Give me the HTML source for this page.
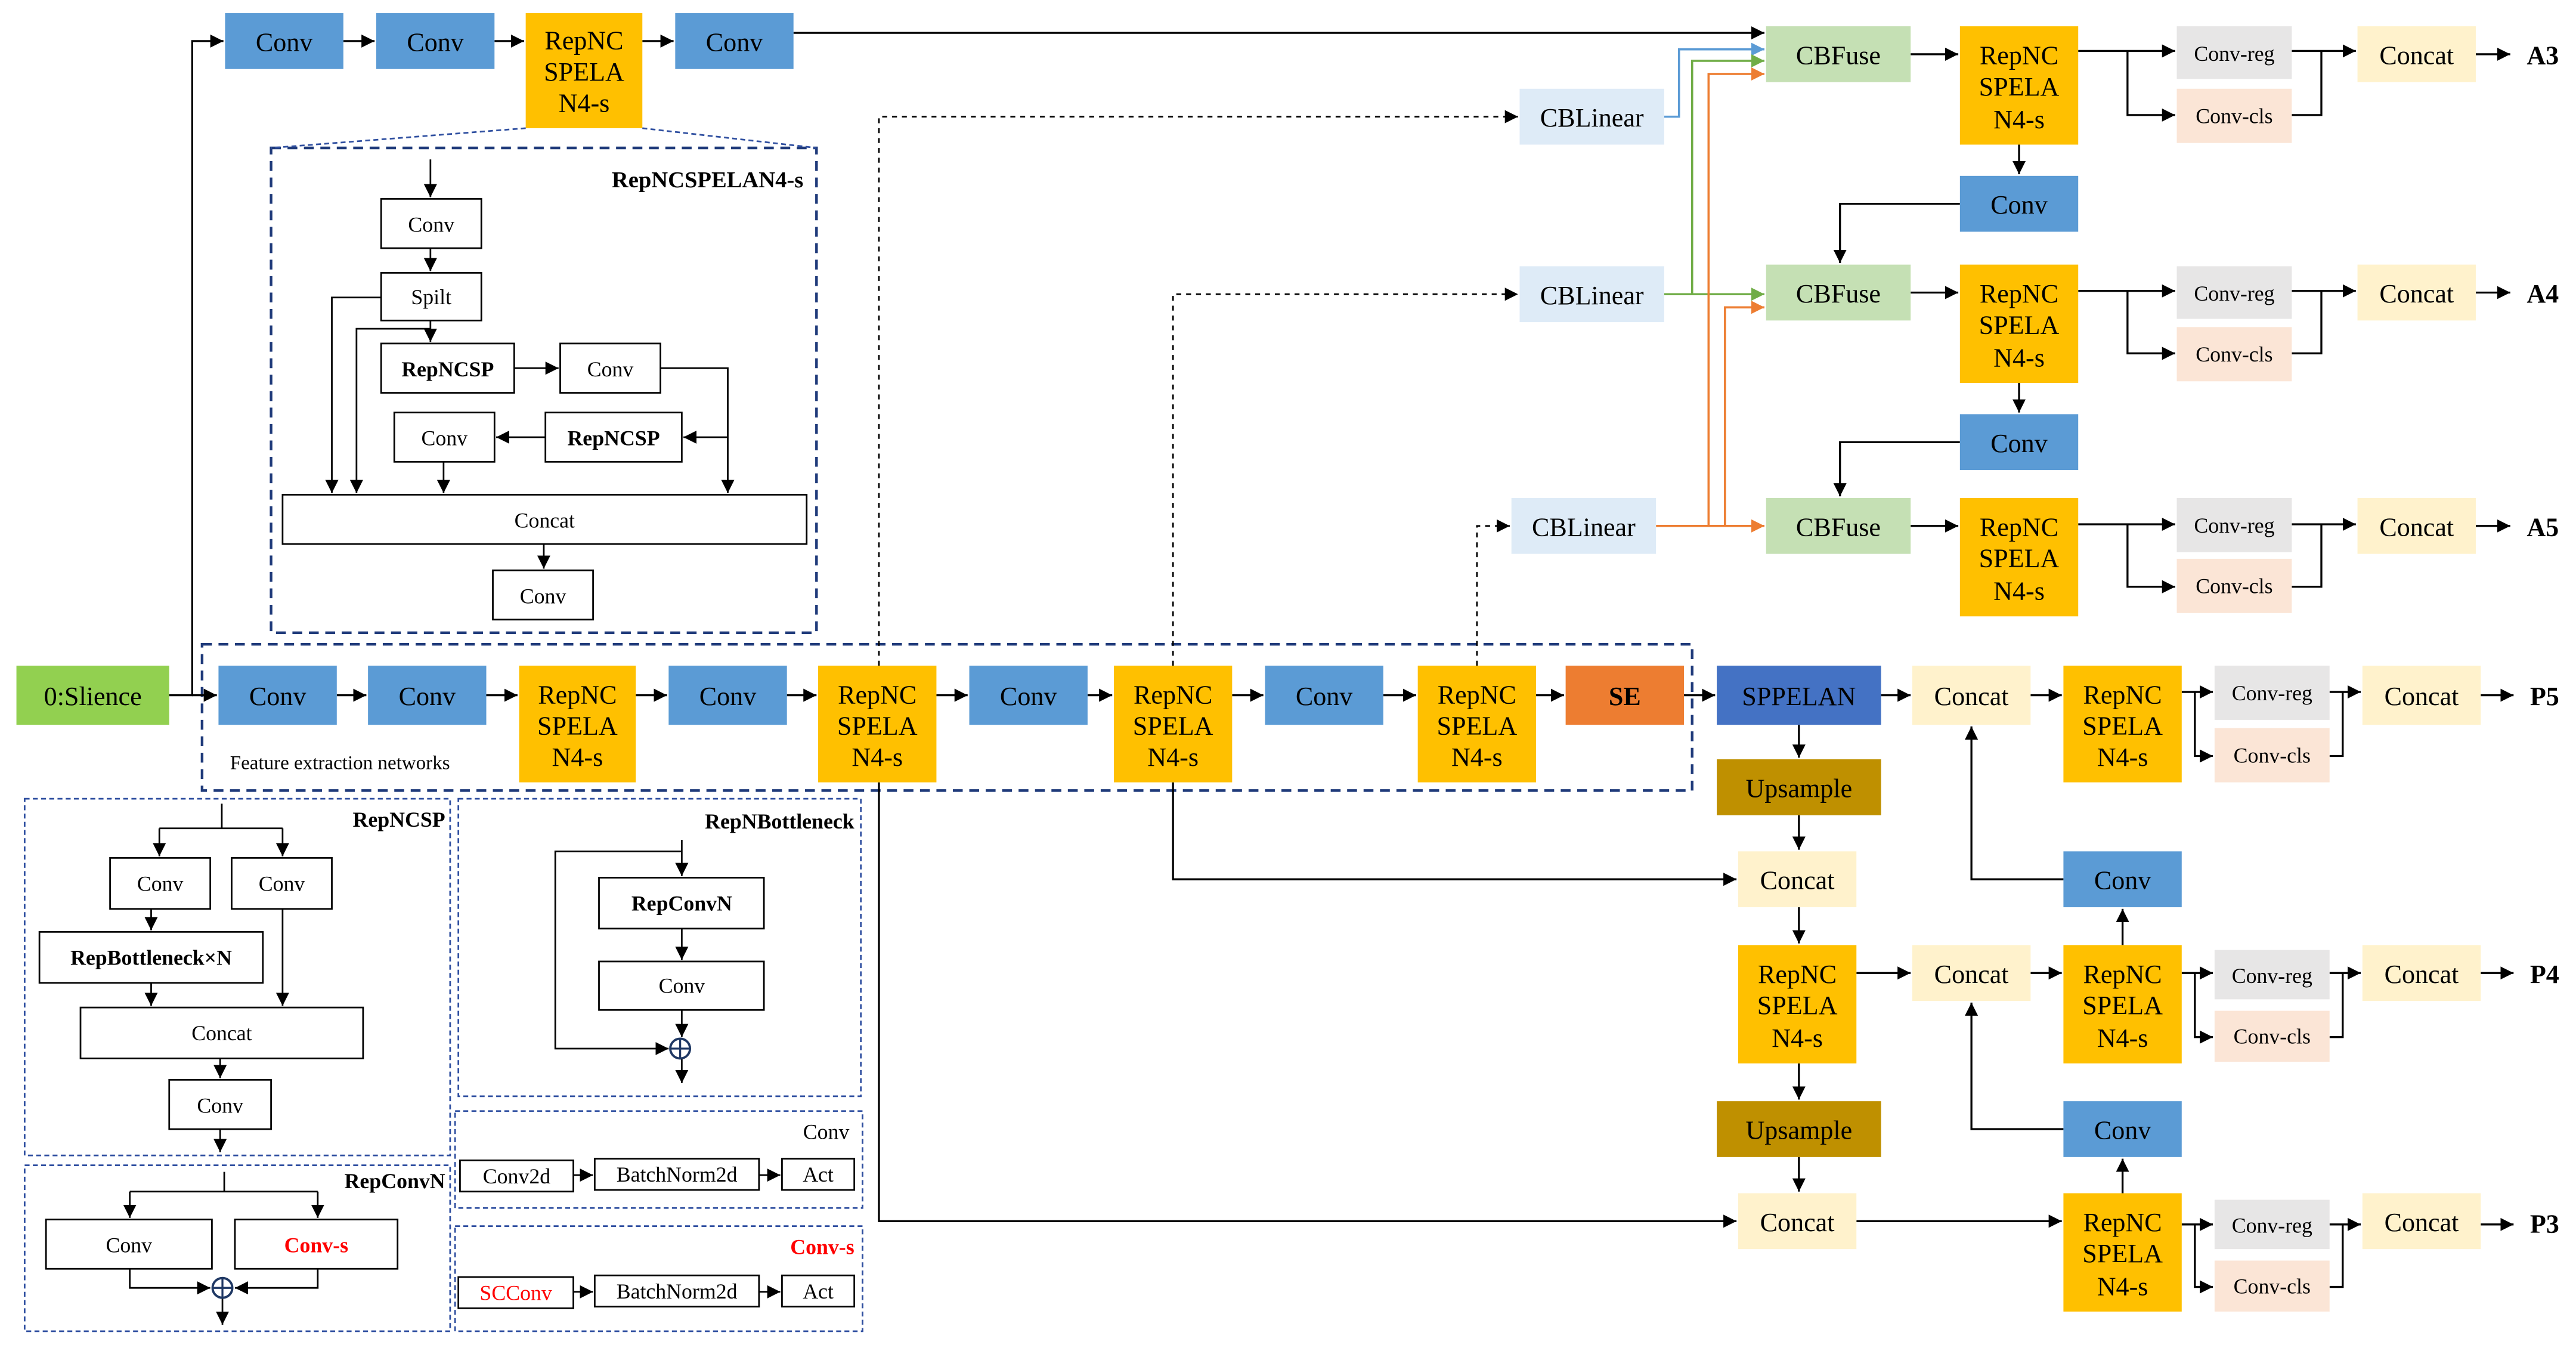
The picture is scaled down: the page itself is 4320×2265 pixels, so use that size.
<!DOCTYPE html>
<html><head><meta charset="utf-8"><style>
html,body{margin:0;padding:0;background:#fff;}
svg{display:block;}
text{font-family:"Liberation Serif",serif;fill:#000;}
</style></head><body>
<svg width="4320" height="2265" viewBox="0 0 1568 822" preserveAspectRatio="none" xmlns="http://www.w3.org/2000/svg">
<defs>
<marker id="a" markerUnits="userSpaceOnUse" markerWidth="9" markerHeight="9" refX="8" refY="4" orient="auto"><path d="M0,0 L8,4 L0,8 z" fill="#000"/></marker>
<marker id="b" markerUnits="userSpaceOnUse" markerWidth="9" markerHeight="9" refX="8" refY="4" orient="auto"><path d="M0,0 L8,4 L0,8 z" fill="#5b9bd5"/></marker>
<marker id="g" markerUnits="userSpaceOnUse" markerWidth="9" markerHeight="9" refX="8" refY="4" orient="auto"><path d="M0,0 L8,4 L0,8 z" fill="#70ad47"/></marker>
<marker id="o" markerUnits="userSpaceOnUse" markerWidth="9" markerHeight="9" refX="8" refY="4" orient="auto"><path d="M0,0 L8,4 L0,8 z" fill="#ed7d31"/></marker>
</defs>
<rect width="1568" height="822" fill="#fff"/>

<!-- dashed group boxes -->
<g fill="none" stroke="#1f3a7a" stroke-width="1.6" stroke-dasharray="6,4">
<rect x="165" y="90" width="332" height="295"/>
<rect x="123" y="392" width="907" height="89"/>
</g>
<g fill="none" stroke="#2f4fa0" stroke-width="1" stroke-dasharray="3,2">
<line x1="320" y1="78" x2="165" y2="90"/><line x1="391" y1="78" x2="497" y2="90"/>
<rect x="15" y="486" width="259" height="217"/>
<rect x="279" y="486" width="245" height="181"/>
<rect x="277" y="676" width="248" height="59"/>
<rect x="277" y="746" width="248" height="64"/>
<rect x="15" y="709" width="259" height="101"/>
</g>

<!-- connectors black -->
<g stroke="#000" stroke-width="1.2" fill="none">
<polyline points="103,423 117,423 117,25 136,25" marker-end="url(#a)"/>
<line x1="117" y1="423" x2="132" y2="423" marker-end="url(#a)"/>
<line x1="209" y1="25" x2="228" y2="25" marker-end="url(#a)"/>
<line x1="301" y1="25" x2="319" y2="25" marker-end="url(#a)"/>
<line x1="391" y1="25" x2="410" y2="25" marker-end="url(#a)"/>
<line x1="483" y1="20" x2="1074" y2="20" marker-end="url(#a)"/>
<!-- main row -->
<line x1="205" y1="423" x2="223" y2="423" marker-end="url(#a)"/>
<line x1="296" y1="423" x2="315" y2="423" marker-end="url(#a)"/>
<line x1="387" y1="423" x2="406" y2="423" marker-end="url(#a)"/>
<line x1="479" y1="423" x2="497" y2="423" marker-end="url(#a)"/>
<line x1="570" y1="423" x2="589" y2="423" marker-end="url(#a)"/>
<line x1="662" y1="423" x2="677" y2="423" marker-end="url(#a)"/>
<line x1="750" y1="423" x2="769" y2="423" marker-end="url(#a)"/>
<line x1="842" y1="423" x2="862" y2="423" marker-end="url(#a)"/>
<line x1="935" y1="423" x2="952" y2="423" marker-end="url(#a)"/>
<line x1="1025" y1="423" x2="1044" y2="423" marker-end="url(#a)"/>
<line x1="1145" y1="423" x2="1163" y2="423" marker-end="url(#a)"/>
<line x1="1236" y1="423" x2="1255" y2="423" marker-end="url(#a)"/>
<!-- P5 head -->
<line x1="1328" y1="421" x2="1347" y2="421" marker-end="url(#a)"/>
<polyline points="1336,421 1336,460 1347,460" marker-end="url(#a)"/>
<polyline points="1418,460 1426,460 1426,421"/>
<line x1="1418" y1="421" x2="1437" y2="421" marker-end="url(#a)"/>
<line x1="1510" y1="423" x2="1530" y2="423" marker-end="url(#a)"/>
<!-- P4 head -->
<line x1="1328" y1="592" x2="1347" y2="592" marker-end="url(#a)"/>
<polyline points="1336,592 1336,631 1347,631" marker-end="url(#a)"/>
<polyline points="1418,631 1426,631 1426,592"/>
<line x1="1418" y1="592" x2="1437" y2="592" marker-end="url(#a)"/>
<line x1="1510" y1="592" x2="1530" y2="592" marker-end="url(#a)"/>
<!-- P3 head -->
<line x1="1328" y1="745" x2="1347" y2="745" marker-end="url(#a)"/>
<polyline points="1336,745 1336,783 1347,783" marker-end="url(#a)"/>
<polyline points="1418,783 1426,783 1426,745"/>
<line x1="1418" y1="745" x2="1437" y2="745" marker-end="url(#a)"/>
<line x1="1510" y1="745" x2="1530" y2="745" marker-end="url(#a)"/>
<!-- neck -->
<line x1="1095" y1="441" x2="1095" y2="461" marker-end="url(#a)"/>
<line x1="1095" y1="496" x2="1095" y2="517" marker-end="url(#a)"/>
<line x1="1095" y1="552" x2="1095" y2="574" marker-end="url(#a)"/>
<line x1="1095" y1="647" x2="1095" y2="669" marker-end="url(#a)"/>
<line x1="1095" y1="704" x2="1095" y2="725" marker-end="url(#a)"/>
<polyline points="714,476 714,535 1057,535" marker-end="url(#a)"/>
<polyline points="535,476 535,743 1057,743" marker-end="url(#a)"/>
<line x1="1130" y1="592" x2="1163" y2="592" marker-end="url(#a)"/>
<line x1="1236" y1="592" x2="1255" y2="592" marker-end="url(#a)"/>
<line x1="1130" y1="743" x2="1255" y2="743" marker-end="url(#a)"/>
<line x1="1292" y1="726" x2="1292" y2="705" marker-end="url(#a)"/>
<polyline points="1256,687 1200,687 1200,610" marker-end="url(#a)"/>
<line x1="1292" y1="575" x2="1292" y2="553" marker-end="url(#a)"/>
<polyline points="1256,535 1200,535 1200,442" marker-end="url(#a)"/>
<!-- top right heads -->
<line x1="1163" y1="33" x2="1192" y2="33" marker-end="url(#a)"/>
<line x1="1265" y1="31" x2="1324" y2="31" marker-end="url(#a)"/>
<polyline points="1295,31 1295,70 1324,70" marker-end="url(#a)"/>
<polyline points="1395,70 1413,70 1413,31"/>
<line x1="1395" y1="31" x2="1434" y2="31" marker-end="url(#a)"/>
<line x1="1507" y1="33" x2="1528" y2="33" marker-end="url(#a)"/>
<line x1="1229" y1="88" x2="1229" y2="106" marker-end="url(#a)"/>
<polyline points="1193,124 1120,124 1120,160" marker-end="url(#a)"/>
<line x1="1163" y1="178" x2="1192" y2="178" marker-end="url(#a)"/>
<line x1="1265" y1="177" x2="1324" y2="177" marker-end="url(#a)"/>
<polyline points="1295,177 1295,215 1324,215" marker-end="url(#a)"/>
<polyline points="1395,215 1413,215 1413,177"/>
<line x1="1395" y1="177" x2="1434" y2="177" marker-end="url(#a)"/>
<line x1="1507" y1="178" x2="1528" y2="178" marker-end="url(#a)"/>
<line x1="1229" y1="233" x2="1229" y2="251" marker-end="url(#a)"/>
<polyline points="1193,269 1120,269 1120,302" marker-end="url(#a)"/>
<line x1="1163" y1="320" x2="1192" y2="320" marker-end="url(#a)"/>
<line x1="1265" y1="319" x2="1324" y2="319" marker-end="url(#a)"/>
<polyline points="1295,319 1295,357 1324,357" marker-end="url(#a)"/>
<polyline points="1395,357 1413,357 1413,319"/>
<line x1="1395" y1="319" x2="1434" y2="319" marker-end="url(#a)"/>
<line x1="1507" y1="320" x2="1528" y2="320" marker-end="url(#a)"/>
</g>
<!-- dashed black -->
<g stroke="#000" stroke-width="1" fill="none" stroke-dasharray="3,3">
<polyline points="535,405 535,71 924,71" marker-end="url(#a)"/>
<polyline points="714,405 714,179 924,179" marker-end="url(#a)"/>
<polyline points="899,405 899,320 919,320" marker-end="url(#a)"/>
</g>
<!-- colored -->
<g fill="none" stroke-width="1.3">
<polyline stroke="#5b9bd5" points="1013,71 1022,71 1022,30 1074,30" marker-end="url(#b)"/>
<polyline stroke="#70ad47" points="1013,179 1074,179" marker-end="url(#g)"/>
<polyline stroke="#70ad47" points="1030,179 1030,37 1074,37" marker-end="url(#g)"/>
<polyline stroke="#ed7d31" points="1008,320 1074,320" marker-end="url(#o)"/>
<polyline stroke="#ed7d31" points="1040,320 1040,45 1074,45" marker-end="url(#o)"/>
<polyline stroke="#ed7d31" points="1050,320 1050,187 1074,187" marker-end="url(#o)"/>
</g>

<!-- colored blocks -->
<g font-size="16" text-anchor="middle">
<rect x="137" y="8" width="72" height="34" fill="#5b9bd5"/><text x="173" y="31">Conv</text>
<rect x="229" y="8" width="72" height="34" fill="#5b9bd5"/><text x="265" y="31">Conv</text>
<rect x="320" y="8" width="71" height="70" fill="#ffc000"/><text x="355.5" y="30">RepNC</text><text x="355.5" y="49">SPELA</text><text x="355.5" y="68">N4-s</text>
<rect x="411" y="8" width="72" height="34" fill="#5b9bd5"/><text x="447" y="31">Conv</text>

<rect x="10" y="405" width="93" height="36" fill="#92d050"/><text x="56.5" y="429">0:Slience</text>
<rect x="133" y="405" width="72" height="36" fill="#5b9bd5"/><text x="169" y="429">Conv</text>
<rect x="224" y="405" width="72" height="36" fill="#5b9bd5"/><text x="260" y="429">Conv</text>
<rect x="316" y="405" width="71" height="71" fill="#ffc000"/><text x="351.5" y="428">RepNC</text><text x="351.5" y="447">SPELA</text><text x="351.5" y="466">N4-s</text>
<rect x="407" y="405" width="72" height="36" fill="#5b9bd5"/><text x="443" y="429">Conv</text>
<rect x="498" y="405" width="72" height="71" fill="#ffc000"/><text x="534" y="428">RepNC</text><text x="534" y="447">SPELA</text><text x="534" y="466">N4-s</text>
<rect x="590" y="405" width="72" height="36" fill="#5b9bd5"/><text x="626" y="429">Conv</text>
<rect x="678" y="405" width="72" height="71" fill="#ffc000"/><text x="714" y="428">RepNC</text><text x="714" y="447">SPELA</text><text x="714" y="466">N4-s</text>
<rect x="770" y="405" width="72" height="36" fill="#5b9bd5"/><text x="806" y="429">Conv</text>
<rect x="863" y="405" width="72" height="71" fill="#ffc000"/><text x="899" y="428">RepNC</text><text x="899" y="447">SPELA</text><text x="899" y="466">N4-s</text>
<rect x="953" y="405" width="72" height="36" fill="#ed7d31"/><text x="989" y="429" font-weight="bold">SE</text>
<rect x="1045" y="405" width="100" height="36" fill="#4472c4"/><text x="1095" y="429">SPPELAN</text>
<rect x="1164" y="405" width="72" height="36" fill="#fff2cc"/><text x="1200" y="429">Concat</text>
<rect x="1256" y="405" width="72" height="71" fill="#ffc000"/><text x="1292" y="428">RepNC</text><text x="1292" y="447">SPELA</text><text x="1292" y="466">N4-s</text>
<rect x="1438" y="405" width="72" height="36" fill="#fff2cc"/><text x="1474" y="429">Concat</text>

<rect x="1045" y="462" width="100" height="34" fill="#bf9000"/><text x="1095" y="485">Upsample</text>
<rect x="1058" y="518" width="72" height="34" fill="#fff2cc"/><text x="1094" y="541">Concat</text>
<rect x="1058" y="575" width="72" height="72" fill="#ffc000"/><text x="1094" y="598">RepNC</text><text x="1094" y="617">SPELA</text><text x="1094" y="637">N4-s</text>
<rect x="1045" y="670" width="100" height="34" fill="#bf9000"/><text x="1095" y="693">Upsample</text>
<rect x="1058" y="726" width="72" height="34" fill="#fff2cc"/><text x="1094" y="749">Concat</text>
<rect x="1164" y="575" width="72" height="34" fill="#fff2cc"/><text x="1200" y="598">Concat</text>
<rect x="1256" y="518" width="72" height="34" fill="#5b9bd5"/><text x="1292" y="541">Conv</text>
<rect x="1256" y="575" width="72" height="72" fill="#ffc000"/><text x="1292" y="598">RepNC</text><text x="1292" y="617">SPELA</text><text x="1292" y="637">N4-s</text>
<rect x="1438" y="575" width="72" height="34" fill="#fff2cc"/><text x="1474" y="598">Concat</text>
<rect x="1256" y="670" width="72" height="34" fill="#5b9bd5"/><text x="1292" y="693">Conv</text>
<rect x="1256" y="726" width="72" height="72" fill="#ffc000"/><text x="1292" y="749">RepNC</text><text x="1292" y="768">SPELA</text><text x="1292" y="788">N4-s</text>
<rect x="1438" y="726" width="72" height="34" fill="#fff2cc"/><text x="1474" y="749">Concat</text>

<rect x="1075" y="16" width="88" height="34" fill="#c5e0b4"/><text x="1119" y="39">CBFuse</text>
<rect x="1193" y="16" width="72" height="72" fill="#ffc000"/><text x="1229" y="39">RepNC</text><text x="1229" y="58">SPELA</text><text x="1229" y="78">N4-s</text>
<rect x="1435" y="16" width="72" height="34" fill="#fff2cc"/><text x="1471" y="39">Concat</text>
<rect x="1193" y="107" width="72" height="34" fill="#5b9bd5"/><text x="1229" y="130">Conv</text>
<rect x="1075" y="161" width="88" height="34" fill="#c5e0b4"/><text x="1119" y="184">CBFuse</text>
<rect x="1193" y="161" width="72" height="72" fill="#ffc000"/><text x="1229" y="184">RepNC</text><text x="1229" y="203">SPELA</text><text x="1229" y="223">N4-s</text>
<rect x="1435" y="161" width="72" height="34" fill="#fff2cc"/><text x="1471" y="184">Concat</text>
<rect x="1193" y="252" width="72" height="34" fill="#5b9bd5"/><text x="1229" y="275">Conv</text>
<rect x="1075" y="303" width="88" height="34" fill="#c5e0b4"/><text x="1119" y="326">CBFuse</text>
<rect x="1193" y="303" width="72" height="72" fill="#ffc000"/><text x="1229" y="326">RepNC</text><text x="1229" y="345">SPELA</text><text x="1229" y="365">N4-s</text>
<rect x="1435" y="303" width="72" height="34" fill="#fff2cc"/><text x="1471" y="326">Concat</text>

<rect x="925" y="54" width="88" height="34" fill="#deebf7"/><text x="969" y="77">CBLinear</text>
<rect x="925" y="162" width="88" height="34" fill="#deebf7"/><text x="969" y="185">CBLinear</text>
<rect x="920" y="303" width="88" height="34" fill="#deebf7"/><text x="964" y="326">CBLinear</text>
</g>
<g font-size="16" font-weight="bold">
<text x="1538" y="39">A3</text><text x="1538" y="184">A4</text><text x="1538" y="326">A5</text>
<text x="1540" y="429">P5</text><text x="1540" y="598">P4</text><text x="1540" y="750">P3</text>
</g>
<!-- reg/cls -->
<g font-size="13" text-anchor="middle">
<rect x="1325" y="16" width="70" height="32" fill="#e7e6e6"/><text x="1360" y="37">Conv-reg</text>
<rect x="1325" y="54" width="70" height="33" fill="#fbe5d6"/><text x="1360" y="75">Conv-cls</text>
<rect x="1325" y="162" width="70" height="32" fill="#e7e6e6"/><text x="1360" y="183">Conv-reg</text>
<rect x="1325" y="199" width="70" height="33" fill="#fbe5d6"/><text x="1360" y="220">Conv-cls</text>
<rect x="1325" y="303" width="70" height="33" fill="#e7e6e6"/><text x="1360" y="324">Conv-reg</text>
<rect x="1325" y="340" width="70" height="33" fill="#fbe5d6"/><text x="1360" y="361">Conv-cls</text>
<rect x="1348" y="405" width="70" height="33" fill="#e7e6e6"/><text x="1383" y="426">Conv-reg</text>
<rect x="1348" y="443" width="70" height="33" fill="#fbe5d6"/><text x="1383" y="464">Conv-cls</text>
<rect x="1348" y="578" width="70" height="30" fill="#e7e6e6"/><text x="1383" y="598">Conv-reg</text>
<rect x="1348" y="615" width="70" height="31" fill="#fbe5d6"/><text x="1383" y="635">Conv-cls</text>
<rect x="1348" y="730" width="70" height="30" fill="#e7e6e6"/><text x="1383" y="750">Conv-reg</text>
<rect x="1348" y="767" width="70" height="31" fill="#fbe5d6"/><text x="1383" y="787">Conv-cls</text>
</g>
<text x="140" y="468" font-size="12">Feature extraction networks</text>

<!-- RepNCSPELAN4-s detail -->
<text x="489" y="114" font-size="14" font-weight="bold" text-anchor="end">RepNCSPELAN4-s</text>
<g stroke="#000" stroke-width="1" fill="none">
<line x1="262" y1="97" x2="262" y2="120" marker-end="url(#a)"/>
<line x1="262" y1="151" x2="262" y2="165" marker-end="url(#a)"/>
<polyline points="232,181 202,181 202,300" marker-end="url(#a)"/>
<polyline points="262,195 262,200 217,200 217,300" marker-end="url(#a)"/>
<line x1="262" y1="200" x2="262" y2="208" marker-end="url(#a)"/>
<line x1="313" y1="224" x2="340" y2="224" marker-end="url(#a)"/>
<polyline points="402,224 443,224 443,300" marker-end="url(#a)"/>
<line x1="443" y1="266" x2="416" y2="266" marker-end="url(#a)"/>
<line x1="332" y1="266" x2="302" y2="266" marker-end="url(#a)"/>
<line x1="270" y1="281" x2="270" y2="300" marker-end="url(#a)"/>
<line x1="331" y1="331" x2="331" y2="346" marker-end="url(#a)"/>
</g>
<g stroke="#000" stroke-width="1" fill="#fff">
<rect x="232" y="121" width="61" height="30"/><rect x="232" y="166" width="61" height="29"/>
<rect x="232" y="209" width="81" height="30"/><rect x="341" y="209" width="61" height="30"/>
<rect x="240" y="251" width="61" height="30"/><rect x="332" y="251" width="83" height="30"/>
<rect x="172" y="301" width="319" height="30"/><rect x="300" y="347" width="61" height="30"/>
</g>
<g font-size="13" text-anchor="middle">
<text x="262.5" y="141">Conv</text><text x="262.5" y="185">Spilt</text>
<text x="272.5" y="229" font-weight="bold">RepNCSP</text><text x="371.5" y="229">Conv</text>
<text x="270.5" y="271">Conv</text><text x="373.5" y="271" font-weight="bold">RepNCSP</text>
<text x="331.5" y="321">Concat</text><text x="330.5" y="367">Conv</text>
</g>

<!-- RepNCSP detail -->
<g stroke="#000" stroke-width="1" fill="none">
<polyline points="135,489 135,504"/>
<polyline points="97,504 172,504"/>
<line x1="97" y1="504" x2="97" y2="521" marker-end="url(#a)"/>
<line x1="172" y1="504" x2="172" y2="521" marker-end="url(#a)"/>
<line x1="92" y1="553" x2="92" y2="566" marker-end="url(#a)"/>
<line x1="92" y1="598" x2="92" y2="612" marker-end="url(#a)"/>
<line x1="172" y1="553" x2="172" y2="612" marker-end="url(#a)"/>
<line x1="134" y1="644" x2="134" y2="656" marker-end="url(#a)"/>
<line x1="134" y1="687" x2="134" y2="701" marker-end="url(#a)"/>
</g>
<g stroke="#000" stroke-width="1" fill="#fff">
<rect x="67" y="522" width="61" height="31"/><rect x="141" y="522" width="61" height="31"/>
<rect x="24" y="567" width="136" height="31"/><rect x="49" y="613" width="172" height="31"/>
<rect x="103" y="657" width="62" height="30"/>
</g>
<g font-size="13" text-anchor="middle">
<text x="97.5" y="542">Conv</text><text x="171.5" y="542">Conv</text>
<text x="92" y="587" font-weight="bold">RepBottleneck×N</text>
<text x="135" y="633">Concat</text><text x="134" y="677">Conv</text>
</g>
<text x="271" y="503" font-size="13" font-weight="bold" text-anchor="end">RepNCSP</text>

<!-- RepConvN detail -->
<g stroke="#000" stroke-width="1" fill="none">
<line x1="136.5" y1="713" x2="136.5" y2="725"/>
<line x1="79" y1="725" x2="193.4" y2="725"/>
<line x1="79" y1="725" x2="79" y2="741" marker-end="url(#a)"/>
<line x1="193.4" y1="725" x2="193.4" y2="741" marker-end="url(#a)"/>
<polyline points="79,772 79,783.6 128,783.6" marker-end="url(#a)"/>
<polyline points="193.4,772 193.4,783.6 143,783.6" marker-end="url(#a)"/>
<line x1="135.4" y1="790" x2="135.4" y2="806" marker-end="url(#a)"/>
</g>
<g stroke="#000" stroke-width="1" fill="#fff">
<rect x="28" y="742" width="101" height="30"/><rect x="143" y="742" width="99" height="30"/>
</g>
<circle cx="135.4" cy="783.6" r="6" fill="#fff" stroke="#1f3864" stroke-width="1.4"/>
<path d="M129.4,783.6 H141.4 M135.4,777.6 V789.6" stroke="#1f3864" stroke-width="1.2"/>
<text x="78.5" y="762" font-size="13" text-anchor="middle">Conv</text>
<text x="192.5" y="762" font-size="13" text-anchor="middle" font-weight="bold" style="fill:#ff0000">Conv-s</text>
<text x="271" y="723" font-size="13" font-weight="bold" text-anchor="end">RepConvN</text>

<!-- RepNBottleneck -->
<g stroke="#000" stroke-width="1" fill="none">
<line x1="415" y1="511" x2="415" y2="533" marker-end="url(#a)"/>
<polyline points="415,518 338,518 338,638 407,638" marker-end="url(#a)"/>
<line x1="415" y1="565" x2="415" y2="584" marker-end="url(#a)"/>
<line x1="415" y1="614.5" x2="415" y2="631" marker-end="url(#a)"/>
<line x1="415" y1="644" x2="415" y2="659" marker-end="url(#a)"/>
</g>
<g stroke="#000" stroke-width="1" fill="#fff">
<rect x="364.6" y="534" width="100.4" height="31"/><rect x="364.6" y="585" width="100.4" height="29.5"/>
</g>
<circle cx="414" cy="638" r="6" fill="#fff" stroke="#1f3864" stroke-width="1.4"/>
<path d="M408,638 H420 M414,632 V644" stroke="#1f3864" stroke-width="1.2"/>
<text x="415" y="554" font-size="13" text-anchor="middle" font-weight="bold">RepConvN</text>
<text x="415" y="604" font-size="13" text-anchor="middle">Conv</text>
<text x="520" y="504" font-size="13" font-weight="bold" text-anchor="end">RepNBottleneck</text>

<!-- Conv / Conv-s detail -->
<g stroke="#000" stroke-width="1" fill="none">
<line x1="349" y1="715" x2="361" y2="715" marker-end="url(#a)"/>
<line x1="462" y1="715" x2="475" y2="715" marker-end="url(#a)"/>
<line x1="349" y1="786" x2="361" y2="786" marker-end="url(#a)"/>
<line x1="462" y1="786" x2="475" y2="786" marker-end="url(#a)"/>
</g>
<g stroke="#000" stroke-width="1" fill="#fff">
<rect x="280" y="706" width="69" height="19"/><rect x="362" y="705" width="100" height="19"/><rect x="476" y="705" width="44" height="19"/>
<rect x="279" y="777" width="70" height="19"/><rect x="362" y="776" width="100" height="19"/><rect x="476" y="776" width="44" height="19"/>
</g>
<g font-size="13" text-anchor="middle">
<text x="314.5" y="720">Conv2d</text><text x="412" y="719">BatchNorm2d</text><text x="498" y="719">Act</text>
<text x="314" y="791" style="fill:#ff0000">SCConv</text><text x="412" y="790">BatchNorm2d</text><text x="498" y="790">Act</text>
</g>
<text x="517" y="693" font-size="13" text-anchor="end">Conv</text>
<text x="520" y="763" font-size="13" font-weight="bold" text-anchor="end" style="fill:#ff0000">Conv-s</text>
</svg>
</body></html>
